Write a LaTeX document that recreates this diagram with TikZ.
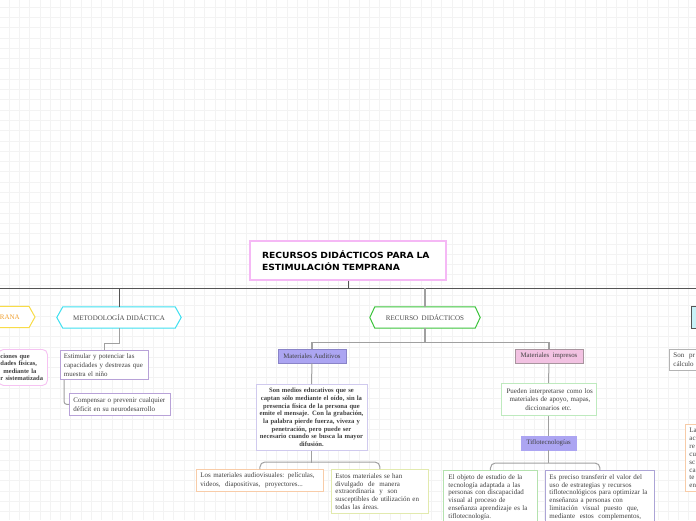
\documentclass[tikz,border=0pt]{standalone}
\usepackage{fontspec}
\setmainfont{Liberation Serif}
\newfontfamily\titlefont[FakeStretch=1.08]{DejaVu Sans}
\usetikzlibrary{calc}
\pgfdeclarelayer{bg}
\pgfsetlayers{bg,main}
\definecolor{cgrid}{HTML}{F3F3F3}
\definecolor{cmain}{HTML}{555555}
\definecolor{clt}{HTML}{A0A0A0}
\definecolor{ctitle}{HTML}{F5B8F5}
\definecolor{cyellowb}{HTML}{F8DC48}
\definecolor{corange}{HTML}{F0A030}
\definecolor{ccyan}{HTML}{3EE0F0}
\definecolor{cgreen}{HTML}{3CC43C}
\definecolor{chex}{HTML}{4A4A4A}
\definecolor{ctext}{HTML}{404040}
\definecolor{cpurb}{HTML}{B8A2D8}
\definecolor{cpinkb}{HTML}{F6C2F2}
\definecolor{cmaud}{HTML}{ACA5F2}
\definecolor{cmaudb}{HTML}{8A84C8}
\definecolor{cmimp}{HTML}{F2C2E2}
\definecolor{cmimpb}{HTML}{A8949E}
\definecolor{cs1b}{HTML}{D0CAEE}
\definecolor{corgb}{HTML}{F8CCA8}
\definecolor{cyelgb}{HTML}{E2EAAE}
\definecolor{cgrb}{HTML}{BEEABE}
\definecolor{cgrb2}{HTML}{B4E2AE}
\definecolor{cpurb2}{HTML}{ACA4D6}
\definecolor{cgrayb}{HTML}{B4B4B4}
\definecolor{ccyanf}{HTML}{C8F2F8}
\newcommand\jl[1]{\makebox[\hsize][s]{#1}\\}
\newcommand\hexframe[3]{\draw[#2, line width=1pt, fill=white] ([xshift=#3]#1.north west) -- ([xshift=-#3]#1.north east) -- (#1.east) -- ([xshift=-#3]#1.south east) -- ([xshift=#3]#1.south west) -- (#1.west) -- cycle;}
\tikzset{
  mainline/.style={draw=cmain, line width=1pt},
  lt/.style={draw=clt, line width=1pt},
  ltthick/.style={draw=clt, line width=1.6pt},
  dk/.style={draw=cmain, line width=0.9pt},
  hexlbl/.style={minimum height=21pt, inner sep=0pt, font=\fontsize{7}{8}\selectfont, text=chex},
  bx/.style={draw, line width=0.9pt, fill=white, text=ctext, inner xsep=4pt, inner ysep=2pt, align=left, font=\fontsize{7}{9}\selectfont},
  lbl/.style={draw, line width=0.8pt, inner sep=0pt, minimum height=14pt, text=ctext, font=\fontsize{6.8}{7}\selectfont},
}
\begin{document}
\begin{tikzpicture}[x=1pt,y=-1pt]
\useasboundingbox (0,0) rectangle (696,520);
\clip (0,0) rectangle (696,520);
\begin{pgfonlayer}{bg}
\fill[white] (0,0) rectangle (696,520);
\foreach \i in {0,...,67} {\draw[cgrid, line width=0.7pt] ({9+10.3*\i},0) -- ({9+10.3*\i},520);}
\foreach \i in {0,...,50} {\draw[cgrid, line width=0.7pt] (0,{7+10.3*\i}) -- (696,{7+10.3*\i});}
\end{pgfonlayer}

% title
\node[draw=ctitle, line width=1.3pt, fill=white, minimum width=196pt, minimum height=39pt, text width=172pt, inner xsep=12pt, align=left, font=\titlefont\bfseries\fontsize{8.5}{11.5}\selectfont] (title) at (348,260.5) {RECURSOS DIDÁCTICOS PARA LA\\ESTIMULACIÓN TEMPRANA};
\coordinate (hl) at (0,288);
\coordinate (hr) at (696,288);
\draw[mainline] (hl) -- (hr);
\draw[dk] (title.south) -- (title.south |- hl);

% hexagons
\node[hexlbl, text=corange, minimum width=80pt, text width=50pt, align=right, inner xsep=15pt, anchor=east] (h0) at (35,317) {RANA};
\node[hexlbl, minimum width=124pt] (h1) at (119,317.5) {METODOLOGÍA DIDÁCTICA};
\node[hexlbl, minimum width=110pt] (h2) at (425,317.5) {RECURSO\ \ DIDÁCTICOS};
\node[draw=cmain, fill=ccyanf, line width=0.9pt, minimum width=60pt, minimum height=22pt, anchor=west] (h3) at (691,317) {};
\begin{pgfonlayer}{bg}
\hexframe{h0}{cyellowb}{6pt}
\hexframe{h1}{ccyan}{6pt}
\hexframe{h2}{cgreen}{5pt}
\end{pgfonlayer}
\draw[dk] (h1.north) -- (h1.north |- hl);
\draw[ltthick] (h2.north) -- (h2.north |- hl);

% left column
\node[bx, draw=cpinkb, rounded corners=5pt, anchor=north west, text width=45pt, inner xsep=2pt, minimum height=36pt, font=\bfseries\fontsize{6.5}{7.4}\selectfont] (p0) at (-2,349) {ciones que\\dades físicas,\\\hspace*{3pt}mediante la\\r sistematizada};
\node[bx, draw=cpurb, anchor=north west, minimum width=88pt, minimum height=29pt, text width=83pt, inner xsep=2.5pt, font=\fontsize{6.9}{9}\selectfont] (e1) at (60,350) {\hspace*{1pt}Estimular y potenciar las\\\hspace*{1pt}capacidades y destrezas que\\\hspace*{1pt}muestra el niño};
\node[bx, draw=cpurb, anchor=north west, minimum width=101pt, minimum height=22pt, text width=93pt] (e2) at (69,393) {Compensar o prevenir cualquier\\déficit en su neurodesarrollo};
\draw[lt] (h1.south) -- ++(0,15) -| (e1.north);
\draw[lt, rounded corners=3pt] ([xshift=4pt]e1.south west) |- (e2.west);

% recursos didacticos
\node[lbl, draw=cmaudb, fill=cmaud, minimum width=68pt] (ma) at (312,356) {Materiales Auditivos};
\node[lbl, draw=cmimpb, fill=cmimp, minimum width=68pt] (mi) at (549,356) {Materiales\ \ impresos};
\draw[ltthick] (h2.south) -- ++(0,15);
\draw[ltthick] (ma.north) -- ++(0,-6) -| (mi.north);

\node[bx, draw=cs1b, anchor=north, minimum width=111pt, minimum height=66pt, text width=105pt, inner xsep=3pt, align=center, font=\bfseries\fontsize{6.6}{7.7}\selectfont] (s1) at (311.5,384) {Son medios educativos que se\\captan sólo mediante el oído, sin la\\presencia física de la persona que\\emite el mensaje. Con la grabación,\\la palabra pierde fuerza, viveza y\\penetración, pero puede ser\\necesario cuando se busca la mayor\\difusión.};
\draw[lt] (ma.south) -- (s1.north);

\node[bx, draw=corgb, anchor=north west, minimum width=127pt, minimum height=22pt, text width=119pt] (a1) at (196,469) {\jl{Los materiales audiovisuales: películas,}videos,\ \ diapositivas,\ \ proyectores...};
\node[bx, draw=cyelgb, anchor=north west, minimum width=97pt, minimum height=44pt, text width=89pt, font=\fontsize{7}{7.6}\selectfont] (a2) at (331,469) {\makebox[72pt][s]{Estos materiales se han}\\divulgado\ \ de\ \ manera\\extraordinaria\ \ y\ \ son\\susceptibles de utilización en\\todas las áreas.};
\draw[lt] (s1.south) -- ++(0,12);
\draw[lt, rounded corners=5pt] (a1.north) -- ++(0,-7) -| (a2.north);

\node[bx, draw=cgrb, anchor=north, minimum width=95pt, minimum height=32pt, text width=84pt, align=center, font=\fontsize{7}{8.5}\selectfont] (p1) at (548.5,383) {\jl{Pueden interpretarse como los}\makebox[78pt][s]{materiales de apoyo, mapas,}\\diccionarios etc.};
\draw[lt] (mi.south) -- (p1.north);
\node[lbl, draw=cmaud, fill=cmaud, minimum width=55pt] (t1) at (548.5,443) {Tiflotecnologías};
\draw[lt] (p1.south) -- (t1.north);

\node[bx, draw=cgrb2, anchor=north west, minimum width=94pt, text width=84pt, inner xsep=5pt, inner ysep=4pt, font=\fontsize{7}{7.8}\selectfont] (b1) at (443,470) {\jl{El objeto de estudio de la}\jl{tecnología adaptada a las}\jl{personas con discapacidad}\makebox[67pt][s]{visual al proceso de}\\\jl{enseñanza aprendizaje es la}tiflotecnología.};
\node[bx, draw=cpurb2, anchor=north west, minimum width=109pt, text width=101pt, inner ysep=4pt, font=\fontsize{7}{7.8}\selectfont] (b2) at (545,470) {Es preciso transferir el valor del\\uso de estrategias y recursos\\tiflotecnológicos para optimizar la\\enseñanza a personas con\\limitación\ \ visual\ \ puesto\ \ que,\\\jl{mediante\ \ estos\ \ complementos,}};
\draw[lt] (t1.south) -- ++(0,13);
\draw[lt, rounded corners=5pt] (b1.north) -- ++(0,-7) -| (b2.north);

% right side fragments
\node[bx, draw=cgrayb, anchor=north west, minimum height=21pt, text width=60pt, font=\fontsize{7}{8.6}\selectfont] (r1) at (669,349) {Son\ \ pr\\cálculo};
\node[bx, draw=corgb, anchor=north west, minimum height=67pt, text width=60pt, font=\fontsize{7}{7.9}\selectfont] (r2) at (685,424) {La\\ac\\re\\cu\\sc\\ca\\te\\en};
\end{tikzpicture}
\end{document}
